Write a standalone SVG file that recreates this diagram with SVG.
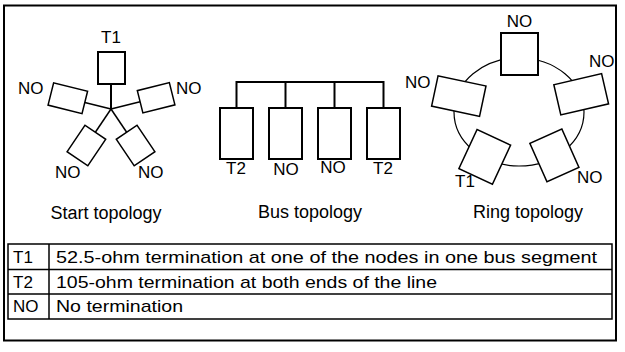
<svg xmlns="http://www.w3.org/2000/svg" width="625" height="352" viewBox="0 0 625 352">
<style>
text{font-family:"Liberation Sans",Arial,sans-serif;fill:#000}
.lbl{font-size:17px}
.cap{font-size:18px;text-anchor:middle}
.tb{font-size:17px}
.box{fill:#fff;stroke:#000;stroke-width:1.5}
.boxb{fill:#fff;stroke:#000;stroke-width:2}
.ln{stroke:#000;stroke-width:1.5;fill:none}
.lnb{stroke:#000;stroke-width:2;fill:none}
</style>
<rect x="4" y="5.5" width="612" height="335" fill="#fff" stroke="#000" stroke-width="2"/>

<g id="connectors">
  <line class="lnb" x1="111" y1="84" x2="111" y2="109"/>
  <line class="ln" x1="111" y1="109" x2="141" y2="109" transform="rotate(-14 111 109)"/>
  <line class="ln" x1="111" y1="109" x2="138" y2="109" transform="rotate(194 111 109)"/>
  <line class="ln" x1="111" y1="109" x2="139" y2="109" transform="rotate(56 111 109)"/>
  <line class="ln" x1="111" y1="109" x2="139" y2="109" transform="rotate(124 111 109)"/>
  <polyline class="lnb" points="236.5,108 236.5,82 383.5,82 383.5,108"/>
  <line class="lnb" x1="285.5" y1="82" x2="285.5" y2="108"/>
  <line class="lnb" x1="334.5" y1="82" x2="334.5" y2="108"/>
  <ellipse class="ln" style="stroke-width:1.2" cx="519" cy="112" rx="65" ry="54"/>
</g>

<g id="star-t1"><rect class="boxb" x="98" y="52" width="27" height="32"/><text class="lbl" x="111" y="43" text-anchor="middle">T1</text></g>
<g id="star-right"><rect class="box" x="141" y="97.5" width="33" height="23" transform="rotate(-14 111 109)"/><text class="lbl" x="176" y="94">NO</text></g>
<g id="star-left"><rect class="box" x="138" y="97.5" width="35" height="23" transform="rotate(194 111 109)"/><text class="lbl" x="18" y="94">NO</text></g>
<g id="star-bright"><rect class="box" x="139" y="96.5" width="32" height="25" transform="rotate(56 111 109)"/><text class="lbl" x="138" y="178">NO</text></g>
<g id="star-bleft"><rect class="box" x="139" y="96.5" width="32" height="25" transform="rotate(124 111 109)"/><text class="lbl" x="55" y="178">NO</text></g>
<text class="cap" x="106" y="219">Start topology</text>

<g id="bus-1"><rect class="boxb" x="220" y="108" width="33" height="51"/><text class="lbl" x="236" y="174" text-anchor="middle">T2</text></g>
<g id="bus-2"><rect class="boxb" x="269" y="108" width="33" height="51"/><text class="lbl" x="286" y="175" text-anchor="middle">NO</text></g>
<g id="bus-3"><rect class="boxb" x="318" y="108" width="33" height="51"/><text class="lbl" x="333" y="173" text-anchor="middle">NO</text></g>
<g id="bus-4"><rect class="boxb" x="367" y="108" width="33" height="51"/><text class="lbl" x="383" y="174" text-anchor="middle">T2</text></g>
<text class="cap" x="310" y="218">Bus topology</text>

<g id="ring-top"><rect class="boxb" x="501" y="33" width="37" height="42"/><text class="lbl" x="519.5" y="27" text-anchor="middle">NO</text></g>
<g id="ring-right"><rect class="box" x="556.7" y="78.8" width="49" height="31" transform="rotate(-13 581.2 94.3)"/><text class="lbl" x="589" y="67">NO</text></g>
<g id="ring-left"><rect class="box" x="434.3" y="80.6" width="49" height="31" transform="rotate(12 458.8 96.1)"/><text class="lbl" x="405" y="88">NO</text></g>
<g id="ring-bleft"><rect class="box" x="466.25" y="135.4" width="37" height="43" transform="rotate(25 484.75 156.9)"/><text class="lbl" x="455" y="187">T1</text></g>
<g id="ring-bright"><rect class="box" x="536.9" y="134.4" width="35" height="42" transform="rotate(-24 554.4 155.4)"/><text class="lbl" x="577" y="183">NO</text></g>
<text class="cap" x="528" y="218">Ring topology</text>

<g id="legend">
  <rect x="8" y="244" width="604" height="75" fill="none" stroke="#000" stroke-width="1.5"/>
  <line class="ln" x1="8" y1="269.5" x2="612" y2="269.5"/>
  <line class="ln" x1="8" y1="294" x2="612" y2="294"/>
  <line class="ln" x1="49" y1="244" x2="49" y2="319"/>
  <text class="tb" x="13" y="263">T1</text>
  <text class="tb" x="13" y="288">T2</text>
  <text class="tb" x="13" y="312">NO</text>
  <text class="tb" x="56" y="263" textLength="541" lengthAdjust="spacingAndGlyphs">52.5-ohm termination at one of the nodes in one bus segment</text>
  <text class="tb" x="56" y="288" textLength="381" lengthAdjust="spacingAndGlyphs">105-ohm termination at both ends of the line</text>
  <text class="tb" x="56" y="312" textLength="127" lengthAdjust="spacingAndGlyphs">No termination</text>
</g>
</svg>
